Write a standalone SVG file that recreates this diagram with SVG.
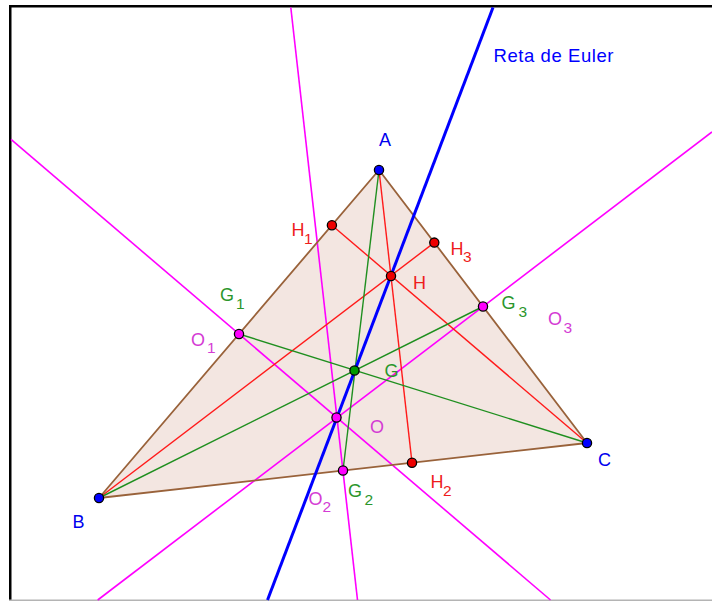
<svg xmlns="http://www.w3.org/2000/svg" width="712" height="601" viewBox="0 0 712 601">
<style>
text{font-family:"Liberation Sans",Arial,sans-serif;font-size:18px}
.sub{font-size:15.5px}
.tb{fill:#0000ee}
.tr{fill:#ee1c1c}
.tg{fill:#2b962b}
.tm{fill:#d43cd4}
.bis{stroke:#ff00ff;stroke-width:1.6;fill:none}
.alt{stroke:#ff1a1a;stroke-width:1.4;fill:none}
.med{stroke:#1f8f1f;stroke-width:1.4;fill:none}
.pt{stroke:#000;stroke-width:1.3}
.pb{fill:#0000ff}
.pr{fill:#ee0000}
.pg{fill:#009900}
.pm{fill:#ff00ff}
</style>
<rect x="0" y="0" width="712" height="601" fill="#fff"/>
<g id="frame">
<rect x="9" y="5" width="703" height="2.5" fill="#000"/>
<rect x="9" y="5" width="2.5" height="596" fill="#000"/>
<rect x="9" y="599.5" width="703" height="1.5" fill="#b4b4b4"/>
</g>
<g id="triangle-fill">
<polygon points="379,170 99,498 587,443" fill="#f3e6e1" stroke="none"/>
</g>
<g id="connectors">
<g id="bisectors">
<line class="bis" x1="290.8" y1="7.5" x2="357.5" y2="600"/>
<line class="bis" x1="11" y1="139.4" x2="550.5" y2="600"/>
<line class="bis" x1="712" y1="132" x2="97.7" y2="600"/>
</g>
<g id="altitudes">
<line class="alt" x1="587" y1="443" x2="331.9" y2="225.2"/>
<line class="alt" x1="99" y1="498" x2="434.3" y2="242.6"/>
<line class="alt" x1="379" y1="170" x2="412" y2="462.7"/>
</g>
<g id="medians">
<line class="med" x1="379" y1="170" x2="343" y2="470.5"/>
<line class="med" x1="99" y1="498" x2="483" y2="306.5"/>
<line class="med" x1="587" y1="443" x2="239" y2="334"/>
</g>
<g id="triangle-edges">
<polygon points="379,170 99,498 587,443" fill="none" stroke="#99623a" stroke-width="1.8" stroke-linejoin="round"/>
</g>
<g id="euler-line">
<line x1="493" y1="7.5" x2="267.5" y2="600" stroke="#0000ff" stroke-width="3"/>
</g>
</g>
<g id="node-A"><circle class="pt pb" cx="379" cy="170" r="4.6"/><text class="tb" x="379" y="145.5">A</text></g>
<g id="node-B"><circle class="pt pb" cx="99" cy="498" r="4.6"/><text class="tb" x="72.5" y="527.5">B</text></g>
<g id="node-C"><circle class="pt pb" cx="587" cy="443" r="4.6"/><text class="tb" x="598" y="466">C</text></g>
<g id="node-H1"><circle class="pt pr" cx="331.9" cy="225.2" r="4.6"/><text class="tr" x="291.5" y="236">H<tspan class="sub" x="304" y="244">1</tspan></text></g>
<g id="node-H3"><circle class="pt pr" cx="434.3" cy="242.6" r="4.6"/><text class="tr" x="450.5" y="255">H<tspan class="sub" x="463" y="261.5">3</tspan></text></g>
<g id="node-H"><circle class="pt pr" cx="391" cy="276" r="4.6"/><text class="tr" x="413" y="288.5">H</text></g>
<g id="node-H2"><circle class="pt pr" cx="412" cy="462.7" r="4.6"/><text class="tr" x="430.5" y="488">H<tspan class="sub" x="443" y="495.5">2</tspan></text></g>
<g id="node-G1"><circle class="pt pm" cx="239" cy="334" r="4.6"/><text class="tg" x="220" y="301">G<tspan class="sub" x="236" y="308.5">1</tspan></text><text class="tm" x="191" y="345.5">O<tspan class="sub" x="207" y="352.5">1</tspan></text></g>
<g id="node-G3"><circle class="pt pm" cx="483" cy="306.5" r="4.6"/><text class="tg" x="501.5" y="308.5">G<tspan class="sub" x="518.5" y="316.5">3</tspan></text><text class="tm" x="548" y="324.5">O<tspan class="sub" x="563.5" y="332.5">3</tspan></text></g>
<g id="node-G2"><circle class="pt pm" cx="343" cy="470.5" r="4.6"/><text class="tg" x="348" y="496.5">G<tspan class="sub" x="364.5" y="505">2</tspan></text><text class="tm" x="308.5" y="505">O<tspan class="sub" x="322.5" y="512">2</tspan></text></g>
<g id="node-G"><circle class="pt pg" cx="354.5" cy="370.5" r="4.6"/><text class="tg" x="384.5" y="377">G</text></g>
<g id="node-O"><circle class="pt pm" cx="336.5" cy="417.5" r="4.6"/><text class="tm" x="370" y="433">O</text></g>
<g id="label-euler"><text x="493.5" y="62" textLength="120" lengthAdjust="spacing" style="font-size:18.5px;fill:#0000ff">Reta de Euler</text></g>
</svg>
